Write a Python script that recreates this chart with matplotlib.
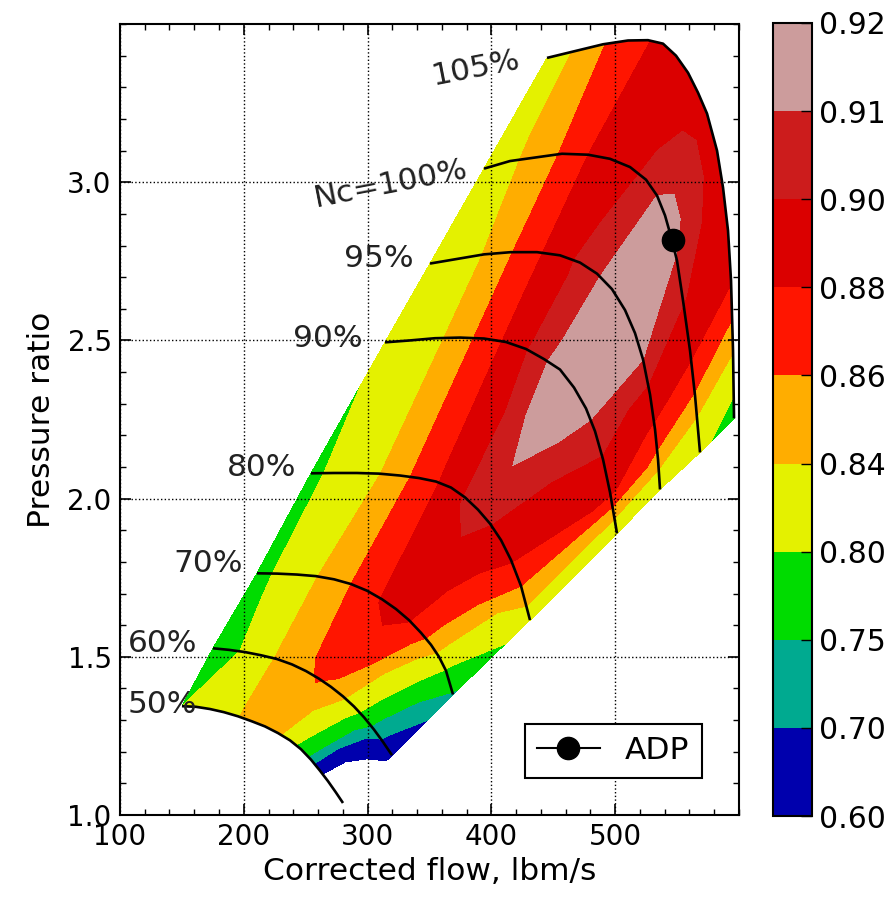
import matplotlib
matplotlib.use("Agg")
import matplotlib.pyplot as plt
from matplotlib.ticker import MultipleLocator
import numpy as np

# -----------------------------
# compressor map data (one row per speed line, surge -> choke)
# -----------------------------
speed_labels = ["50%", "60%", "70%", "80%", "90%", "95%", "Nc=100%", "105%"]

wc_map = [
    [150.08, 161.39, 172.70, 184.01, 195.32, 206.62, 217.12, 227.63, 237.32, 246.20, 254.28, 261.55, 268.01, 274.47, 280.13],
    [175.12, 188.05, 200.97, 213.89, 226.82, 238.93, 250.24, 260.74, 270.44, 280.13, 289.01, 297.09, 305.17, 312.44, 319.71],
    [210.66, 226.82, 242.97, 258.32, 272.86, 286.59, 299.52, 311.63, 322.94, 333.44, 343.13, 351.21, 357.67, 363.33, 368.98],
    [254.28, 272.86, 291.44, 309.21, 326.17, 341.52, 355.25, 367.37, 378.68, 389.18, 398.87, 407.75, 415.83, 423.91, 431.18],
    [314.05, 334.25, 354.44, 374.64, 394.02, 411.79, 427.95, 442.49, 455.41, 466.72, 476.41, 483.68, 490.15, 495.80, 501.45],
    [350.40, 394.02, 415.83, 436.83, 455.41, 471.57, 485.30, 497.42, 507.92, 516.00, 522.46, 528.11, 532.15, 534.58, 536.19],
    [394.02, 415.02, 457.03, 478.03, 495.80, 511.95, 524.88, 533.76, 540.23, 545.07, 549.92, 554.77, 560.42, 564.46, 568.50],
    [444.91, 490.15, 510.34, 526.49, 538.61, 549.11, 558.81, 566.88, 574.15, 582.23, 587.08, 591.11, 593.54, 595.15, 595.96],
]

pr_map = [
    [1.344, 1.342, 1.335, 1.325, 1.312, 1.296, 1.280, 1.259, 1.236, 1.208, 1.175, 1.140, 1.107, 1.071, 1.038],
    [1.527, 1.522, 1.515, 1.505, 1.493, 1.476, 1.455, 1.431, 1.405, 1.375, 1.343, 1.309, 1.270, 1.231, 1.189],
    [1.764, 1.763, 1.760, 1.755, 1.745, 1.730, 1.709, 1.682, 1.651, 1.616, 1.576, 1.538, 1.500, 1.456, 1.381],
    [2.080, 2.081, 2.081, 2.079, 2.073, 2.065, 2.054, 2.035, 2.004, 1.965, 1.921, 1.869, 1.806, 1.724, 1.616],
    [2.494, 2.500, 2.507, 2.509, 2.506, 2.495, 2.473, 2.441, 2.408, 2.351, 2.285, 2.213, 2.124, 2.020, 1.890],
    [2.743, 2.772, 2.779, 2.779, 2.769, 2.746, 2.711, 2.662, 2.596, 2.523, 2.440, 2.329, 2.219, 2.124, 2.029],
    [3.043, 3.067, 3.090, 3.087, 3.074, 3.048, 3.008, 2.958, 2.895, 2.828, 2.752, 2.626, 2.468, 2.326, 2.146],
    [3.393, 3.436, 3.448, 3.449, 3.438, 3.400, 3.346, 3.283, 3.217, 3.100, 2.983, 2.847, 2.689, 2.468, 2.254],
]

eff_map = [
    [0.800, 0.815, 0.826, 0.834, 0.839, 0.848, 0.850, 0.847, 0.818, 0.785, 0.735, 0.640, 0.520, 0.420, 0.300],
    [0.770, 0.788, 0.806, 0.826, 0.843, 0.852, 0.858, 0.861, 0.857, 0.845, 0.818, 0.785, 0.735, 0.690, 0.640],
    [0.780, 0.806, 0.826, 0.839, 0.850, 0.860, 0.871, 0.881, 0.886, 0.881, 0.867, 0.852, 0.834, 0.797, 0.745],
    [0.790, 0.808, 0.823, 0.839, 0.853, 0.866, 0.878, 0.888, 0.901, 0.906, 0.9005, 0.893, 0.882, 0.860, 0.826],
    [0.805, 0.818, 0.834, 0.851, 0.867, 0.883, 0.899, 0.9085, 0.915, 0.917, 0.914, 0.906, 0.899, 0.885, 0.815],
    [0.810, 0.841, 0.859, 0.876, 0.893, 0.903, 0.909, 0.914, 0.916, 0.914, 0.910, 0.896, 0.876, 0.853, 0.814],
    [0.820, 0.835, 0.862, 0.880, 0.889, 0.896, 0.903, 0.910, 0.914, 0.914, 0.909, 0.901, 0.886, 0.858, 0.810],
    [0.825, 0.859, 0.870, 0.879, 0.885, 0.889, 0.892, 0.894, 0.895, 0.894, 0.892, 0.888, 0.882, 0.842, 0.780],
]

eff_levels = [0.60, 0.70, 0.75, 0.80, 0.84, 0.86, 0.88, 0.90, 0.91, 0.92]

# design point
adp_wc = [546.9]
adp_pr = [2.818]

# where the speed labels sit
label_wc = [133.9, 134.7, 171.1, 214.7, 268.0, 309.2, 318.9, 387.6]
label_pr = [1.350, 1.543, 1.796, 2.099, 2.506, 2.759, 2.996, 3.362]
label_rot = [0, 0, 0, 0, 0, 0, 11, 11]

FS_TICK = 20
FS_TEXT = 22.5

W = np.array(wc_map)
PR = np.array(pr_map)
EFF = np.array(eff_map)

fig = plt.figure(figsize=(8.92, 8.97), dpi=100)
ax = fig.add_axes([0.1345, 0.0914, 0.694, 0.8818])
cax = fig.add_axes([0.8666, 0.0903, 0.0437, 0.8841])

cs = ax.contourf(W, PR, EFF, levels=eff_levels, cmap="nipy_spectral")

for i in range(len(speed_labels)):
    ax.plot(W[i], PR[i], color="k", lw=1.9, solid_joinstyle="round",
            solid_capstyle="butt")
    ax.text(label_wc[i], label_pr[i], speed_labels[i], fontsize=FS_TEXT,
            rotation=label_rot[i], ha="center", va="center", color="#222222")

ax.plot(adp_wc, adp_pr, "ko-", ms=16, label="ADP")

ax.set_xlim(100, 600)
ax.set_ylim(1.0, 3.5)
ax.set_xticks([100, 200, 300, 400, 500])
ax.set_yticks([1.0, 1.5, 2.0, 2.5, 3.0])
ax.xaxis.set_minor_locator(MultipleLocator(20))
ax.yaxis.set_minor_locator(MultipleLocator(0.1))
ax.tick_params(which="both", direction="in", top=True, right=True,
               labelsize=FS_TICK)
ax.tick_params(which="major", length=8, width=1.2, pad=6)
ax.tick_params(which="minor", length=4, width=1.0)
for sp in ax.spines.values():
    sp.set_linewidth(1.5)
ax.grid(True, which="major", linestyle=":", color="k", lw=1.0)

ax.set_xlabel("Corrected flow, lbm/s", fontsize=FS_TEXT, labelpad=4)
ax.set_ylabel("Pressure ratio", fontsize=FS_TEXT, labelpad=8)

leg = ax.legend(loc="lower right", numpoints=1, fancybox=False, framealpha=1,
                edgecolor="k", fontsize=FS_TEXT, borderaxespad=1.2,
                handlelength=2.0)
leg.get_frame().set_linewidth(1.5)

cb = fig.colorbar(cs, cax=cax, ticks=eff_levels)
cb.ax.set_yticklabels([f"{v:.2f}" for v in eff_levels])
cb.ax.tick_params(labelsize=FS_TEXT - 1, direction="in", length=8,
                  width=1.0, pad=5)
cb.outline.set_linewidth(1.5)

fig.savefig("out.png", dpi=100, facecolor="white")
